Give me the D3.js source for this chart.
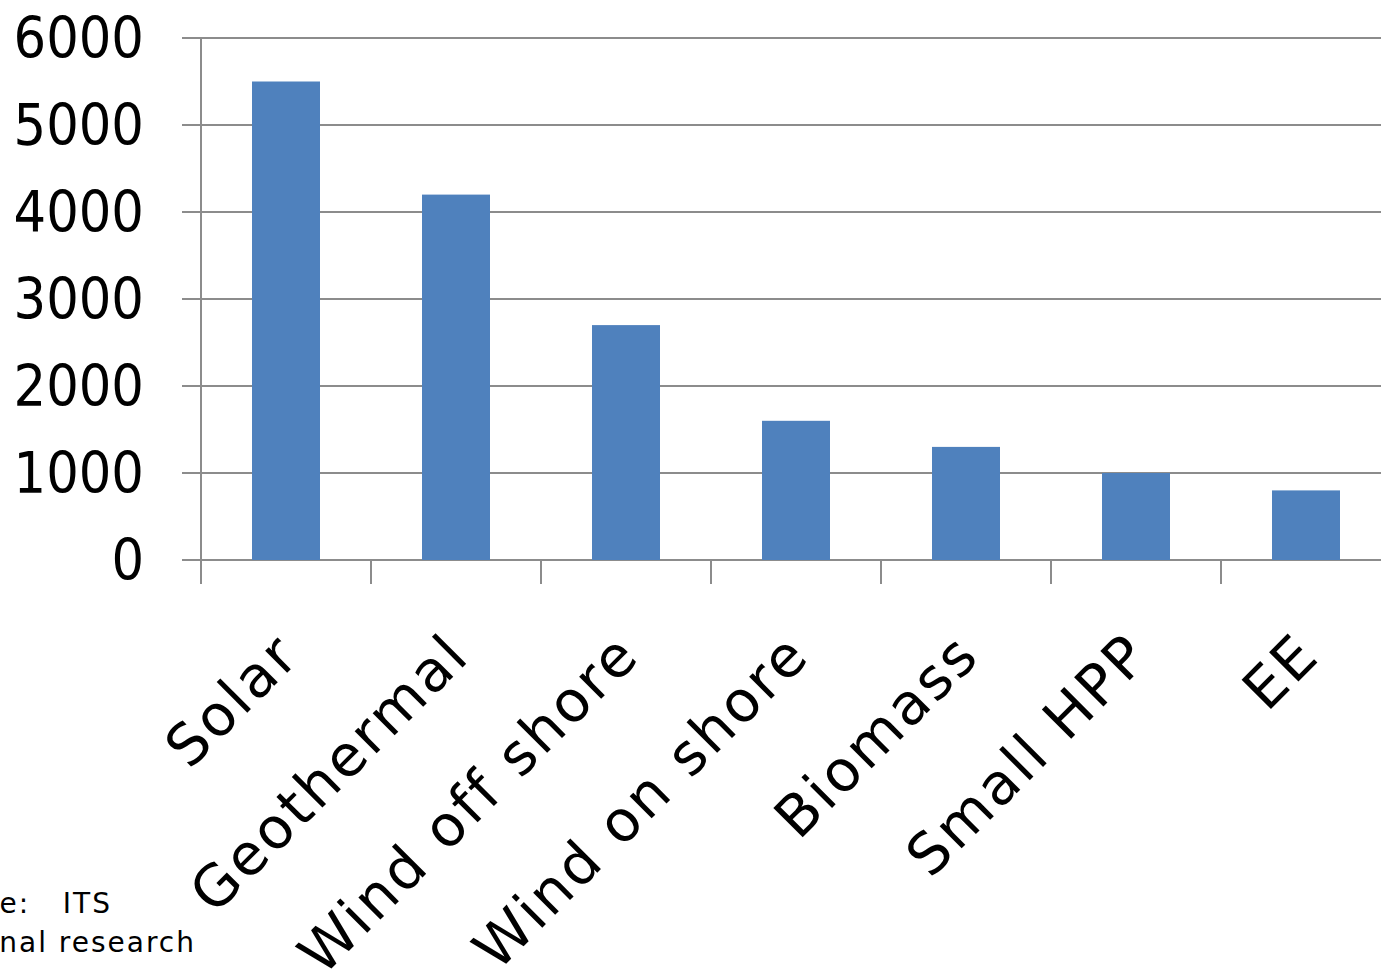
<!DOCTYPE html>
<html>
<head>
<meta charset="utf-8">
<script src="https://cdn.jsdelivr.net/npm/d3@7"></script>
<style>
  html, body { margin: 0; padding: 0; background: #fff; }
  svg { display: block; }
</style>
</head>
<body>
<svg id="chart" width="1381" height="975"></svg>
<script>
// Categories and values
const categories = ["Solar", "Geothermal", "Wind off shore", "Wind on shore", "Biomass", "Small HPP", "EE"];
const values = [5500, 4200, 2700, 1600, 1300, 1000, 800];
const yTicks = [0, 1000, 2000, 3000, 4000, 5000, 6000];
const sourceLines = ["Source:\u00a0\u00a0\u00a0ITS", "Internal research"];

const svg = d3.select("#chart");

const x = d3.scaleBand()
  .domain(categories)
  .range([201, 1391])
  .paddingInner(0.6)
  .paddingOuter(0.3);

const y = d3.scaleLinear()
  .domain([0, 6000])
  .range([560, 38]);

const gridColor = "#8c8c8c";

// Horizontal gridlines
svg.append("g")
  .selectAll("line")
  .data(yTicks)
  .join("line")
  .attr("x1", 182)
  .attr("x2", 1381)
  .attr("y1", d => y(d))
  .attr("y2", d => y(d))
  .attr("stroke", gridColor)
  .attr("stroke-width", 2);

// Bars
svg.append("g")
  .selectAll("rect")
  .data(values)
  .join("rect")
  .attr("x", (d, i) => x(categories[i]))
  .attr("width", x.bandwidth())
  .attr("y", d => y(d))
  .attr("height", d => y(0) - y(d))
  .attr("fill", "#4f81bd");

// Vertical axis line
svg.append("line")
  .attr("x1", 201).attr("x2", 201)
  .attr("y1", y(6000)).attr("y2", 584)
  .attr("stroke", gridColor)
  .attr("stroke-width", 2);

// Category ticks between bands
const tickPositions = categories.map(c => x(c) - x.step() * x.paddingOuter());
svg.append("g")
  .selectAll("line")
  .data(tickPositions)
  .join("line")
  .attr("x1", d => d).attr("x2", d => d)
  .attr("y1", y(0)).attr("y2", 584)
  .attr("stroke", gridColor)
  .attr("stroke-width", 2);

// Y tick labels
svg.append("g")
  .selectAll("text")
  .data(yTicks)
  .join("text")
  .attr("x", 144)
  .attr("y", d => y(d) + 20)
  .attr("text-anchor", "end")
  .attr("font-family", "'DejaVu Sans Condensed', 'DejaVu Sans', sans-serif")
  .attr("font-stretch", "condensed")
  .attr("font-size", 57)
  .attr("fill", "#000")
  .text(d => d);

// Rotated category labels
svg.append("g")
  .selectAll("text")
  .data(categories)
  .join("text")
  .attr("transform", d => {
    const cx = x(d) + x.bandwidth() / 2 + 16;
    return `translate(${cx},658) rotate(-45)`;
  })
  .attr("text-anchor", "end")
  .attr("font-family", "'DejaVu Sans', sans-serif")
  .attr("font-size", 57)
  .attr("letter-spacing", 2.8)
  .attr("fill", "#000")
  .text(d => d);

// Source note
svg.append("g")
  .selectAll("text")
  .data(sourceLines)
  .join("text")
  .attr("x", (d, i) => i === 0 ? 112 : 196)
  .attr("y", (d, i) => i === 0 ? 913 : 952)
  .attr("text-anchor", "end")
  .attr("font-family", "'DejaVu Sans', sans-serif")
  .attr("font-size", 28)
  .attr("letter-spacing", 2)
  .attr("fill", "#000")
  .text(d => d);
</script>
</body>
</html>
